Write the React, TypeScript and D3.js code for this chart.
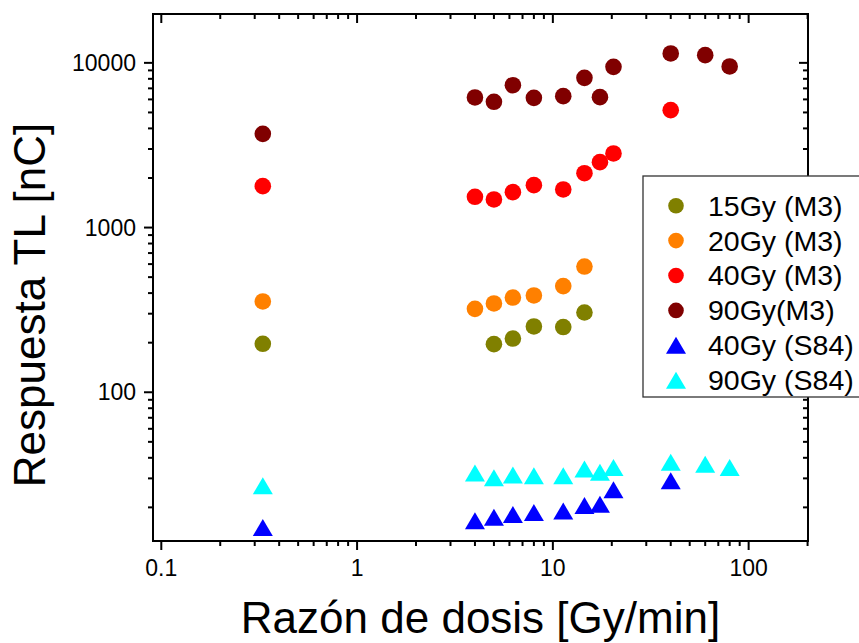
import React, { useRef, useEffect } from 'react';
import * as d3 from 'd3';

// dose rate [Gy/min] and TL response [nC] for each series
const m3_15Rate = [0.33, 5, 6.25, 8, 11.3, 14.5];
const m3_15Resp = [197, 196, 212, 251, 249, 305];
const m3_20Rate = [0.33, 4, 5, 6.25, 8, 11.3, 14.5];
const m3_20Resp = [356, 321, 346, 376, 387, 441, 580];
const m3_40Rate = [0.33, 4, 5, 6.25, 8, 11.3, 14.5, 17.4, 20.4, 40];
const m3_40Resp = [1784, 1537, 1481, 1641, 1809, 1703, 2139, 2495, 2818, 5163];
const m3_90Rate = [0.33, 4, 5, 6.25, 8, 11.3, 14.5, 17.4, 20.4, 40, 60, 80];
const m3_90Resp = [3707, 6166, 5800, 7320, 6130, 6280, 8110, 6190, 9455, 11400, 11140, 9510];
const s84_40Rate = [0.33, 4, 5, 6.25, 8, 11.3, 14.5, 17.4, 20.4, 40];
const s84_40Resp = [15.1, 16.6, 17.4, 18.1, 18.6, 19.0, 20.5, 20.9, 25.6, 29.0];
const s84_90Rate = [0.33, 4, 5, 6.25, 8, 11.3, 14.5, 17.4, 20.4, 40, 60, 80];
const s84_90Resp = [27.1, 32.3, 30.3, 31.4, 31.1, 31.1, 34.2, 32.7, 34.9, 37.6, 36.5, 34.9];

const seriesNames = ['15Gy (M3)', '20Gy (M3)', '40Gy (M3)', '90Gy(M3)', '40Gy (S84)', '90Gy (S84)'];
const xTickLabels = [0.1, 1, 10, 100];
const yTickLabels = [100, 1000, 10000];

const FONT = '"Liberation Sans", Arial, sans-serif';

const App = () => {
  const svgRef = useRef<SVGSVGElement>(null);

  useEffect(() => {
    const svg = d3.select(svgRef.current);
    svg.selectAll('*').remove();
    const width = 859;
    const height = 643;
    const left = 153, right = 808, top = 14, bottom = 541;

    const x = d3.scaleLog().domain([0.0907, 201]).range([left, right]);
    const y = d3.scaleLog().domain([12.5, 19800]).range([bottom, top]);

    const series = [
      { name: seriesNames[0], xs: m3_15Rate, ys: m3_15Resp, color: '#808000', shape: 'circle' },
      { name: seriesNames[1], xs: m3_20Rate, ys: m3_20Resp, color: '#FF8000', shape: 'circle' },
      { name: seriesNames[2], xs: m3_40Rate, ys: m3_40Resp, color: '#FF0000', shape: 'circle' },
      { name: seriesNames[3], xs: m3_90Rate, ys: m3_90Resp, color: '#800000', shape: 'circle' },
      { name: seriesNames[4], xs: s84_40Rate, ys: s84_40Resp, color: '#0000FF', shape: 'triangle' },
      { name: seriesNames[5], xs: s84_90Rate, ys: s84_90Resp, color: '#00FFFF', shape: 'triangle' },
    ];

    // triangle centred on its bounding box
    const tri = (w: number, h: number) => `M0,${-h / 2}L${w / 2},${h / 2}L${-w / 2},${h / 2}Z`;

    const ticksFor = (lo: number, hi: number) => {
      const out: { v: number; major: boolean }[] = [];
      for (let e = -2; e <= 5; e++) {
        for (let k = 1; k <= 9; k++) {
          const v = k * Math.pow(10, e);
          if (v >= lo * 0.999 && v <= hi * 1.001) out.push({ v, major: k === 1 });
        }
      }
      return out;
    };
    const xt = ticksFor(0.0907, 201);
    const yt = ticksFor(12.5, 19800);

    const axes = svg.append('g').attr('stroke', '#000').attr('stroke-width', 2);
    // bottom (outward) and top (inward)
    xt.forEach(t => {
      const len = t.major ? 9 : 5;
      axes.append('line').attr('x1', x(t.v)).attr('x2', x(t.v)).attr('y1', bottom).attr('y2', bottom + len);
      axes.append('line').attr('x1', x(t.v)).attr('x2', x(t.v)).attr('y1', top).attr('y2', top + len);
    });
    // left (outward) and right (inward)
    yt.forEach(t => {
      const len = t.major ? 9 : 5;
      axes.append('line').attr('y1', y(t.v)).attr('y2', y(t.v)).attr('x1', left).attr('x2', left - len);
      axes.append('line').attr('y1', y(t.v)).attr('y2', y(t.v)).attr('x1', right).attr('x2', right - len);
    });
    axes.append('rect')
      .attr('x', left).attr('y', top)
      .attr('width', right - left).attr('height', bottom - top)
      .attr('fill', 'none');

    svg.append('g').selectAll('text')
      .data(xTickLabels)
      .join('text')
      .attr('x', d => x(d))
      .attr('y', 576)
      .attr('text-anchor', 'middle')
      .attr('font-family', FONT)
      .attr('font-size', 23)
      .text(d => String(d));

    svg.append('g').selectAll('text')
      .data(yTickLabels)
      .join('text')
      .attr('x', 136)
      .attr('y', d => y(d))
      .attr('dy', '0.35em')
      .attr('text-anchor', 'end')
      .attr('font-family', FONT)
      .attr('font-size', 23)
      .text(d => String(d));

    svg.append('text')
      .attr('x', (left + right) / 2)
      .attr('y', 633)
      .attr('text-anchor', 'middle')
      .attr('font-family', FONT)
      .attr('font-size', 44)
      .text('Razón de dosis [Gy/min]');

    svg.append('text')
      .attr('transform', 'translate(45,305) rotate(-90)')
      .attr('text-anchor', 'middle')
      .attr('font-family', FONT)
      .attr('font-size', 44)
      .text('Respuesta TL [nC]');

    // markers
    series.forEach(s => {
      const g = svg.append('g').attr('fill', s.color);
      s.xs.forEach((xv, i) => {
        if (s.shape === 'circle') {
          g.append('circle').attr('cx', x(xv)).attr('cy', y(s.ys[i])).attr('r', 8.3);
        } else {
          g.append('path').attr('d', tri(20, 17)).attr('transform', `translate(${x(xv)},${y(s.ys[i])})`);
        }
      });
    });

    // legend
    const lg = svg.append('g');
    lg.append('rect')
      .attr('x', 643).attr('y', 176)
      .attr('width', 260).attr('height', 221)
      .attr('fill', '#fff')
      .attr('stroke', '#333')
      .attr('stroke-width', 1.3);
    series.forEach((s, i) => {
      const cy = 205.7 + i * 34.9;
      if (s.shape === 'circle') {
        lg.append('circle').attr('cx', 676).attr('cy', cy).attr('r', 7.8).attr('fill', s.color);
      } else {
        lg.append('path').attr('d', tri(20, 17)).attr('transform', `translate(676,${cy})`).attr('fill', s.color);
      }
      lg.append('text')
        .attr('x', 708)
        .attr('y', cy)
        .attr('dy', '0.35em')
        .attr('font-family', FONT)
        .attr('font-size', 28.5)
        .text(s.name);
    });

    svg.attr('width', width).attr('height', height);
  }, []);

  return <svg ref={svgRef} style={{ position: 'absolute', left: 0, top: 0, background: '#fff' }}></svg>;
};

export default App;
